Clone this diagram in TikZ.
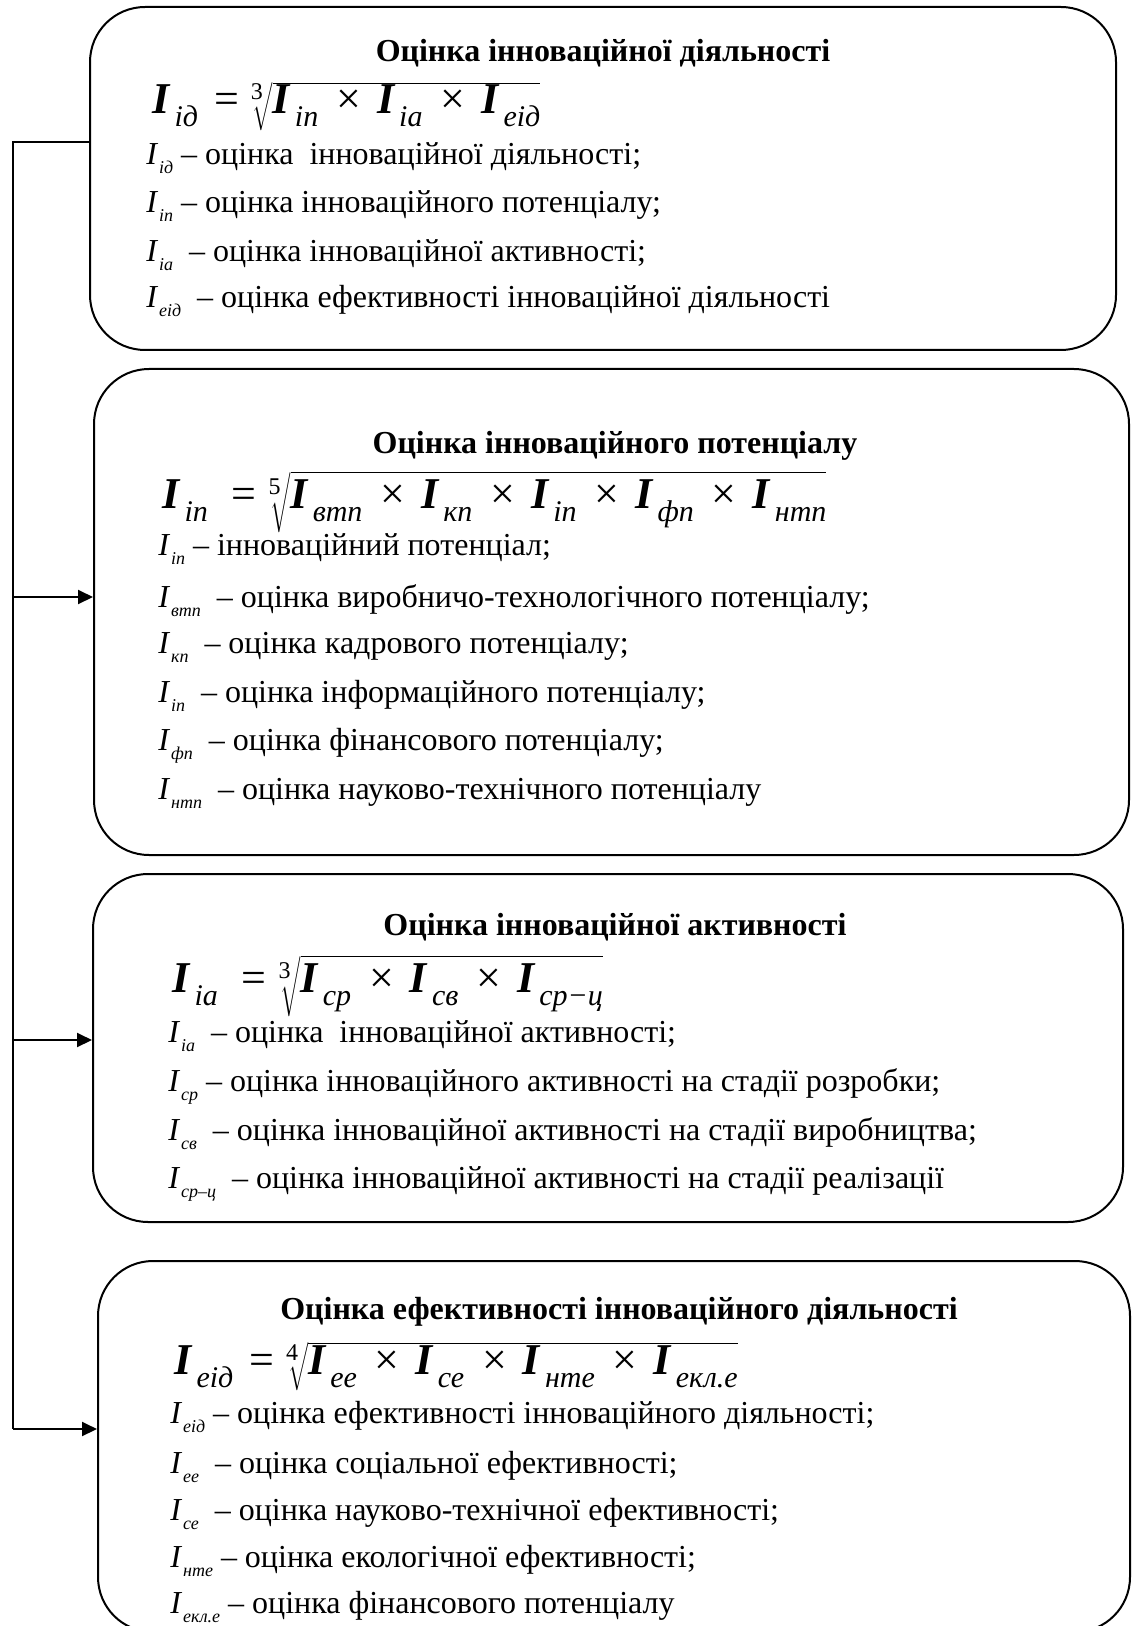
\documentclass[tikz,border=0pt]{standalone}
\usepackage{fontspec}
\setmainfont{Liberation Serif}
\usetikzlibrary{arrows.meta}
% symbol I with a lowered italic index: large (formula) and text size
\newcommand\fI[1]{{\bfseries\itshape I}\kern2.5pt\raisebox{-6.5pt}{\fontsize{15}{15}\selectfont\itshape #1}}
\newcommand\dI[1]{\textit{I}\kern0.4pt\raisebox{-4.5pt}{\fontsize{9}{9}\selectfont\itshape #1}}
\newcommand\tms{\hspace{9pt}×\hspace{8pt}}
\newcommand\eqs{\hspace{8pt}=\hspace{6pt}}
% n-th root of a product: the degree sits over the hook of the radical
\newcommand\rootof[2]{\raisebox{7pt}{\fontsize{12}{12}\selectfont #1}\kern-5pt$\sqrt{\mbox{\rule[-8pt]{0pt}{18pt}#2}}$}
\begin{document}
\begin{tikzpicture}[x=0.5pt,y=-0.5pt,
  card/.style={draw, line width=1pt, rounded corners=27.5pt, inner sep=0pt},
  head/.style={anchor=base, inner sep=0pt, font=\fontsize{16}{19}\selectfont\bfseries},
  formula/.style={anchor=base west, inner sep=0pt, font=\fontsize{22}{26}\selectfont},
  item/.style={anchor=base west, inner sep=0pt, font=\fontsize{16}{19}\selectfont},
  link/.style={line width=1pt},
  feed/.style={link, -{Triangle[length=7.5pt,width=7pt]}}]
\useasboundingbox (0,0) rectangle (1131,1626);

% frames
\node[card, minimum width=513pt, minimum height=171.5pt] (b1) at (603,178.5) {};
\node[card, minimum width=517.5pt, minimum height=243pt] (b2) at (611.5,612) {};
\node[card, minimum width=515pt, minimum height=174pt] (b3) at (608,1048) {};
\node[card, minimum width=516pt, minimum height=185.5pt] (b4) at (614,1446.5) {};

% block 1
\node[head] (h1) at (603,62) {Оцінка інноваційної діяльності};
\node[formula] (f1) at (152,114) {\fI{ід}\eqs\rootof{3}{\fI{іп}\tms\fI{іа}\tms\fI{еід}}};
\node[item] (a1) at (146,165) {\dI{ід} – оцінка\ \ інноваційної діяльності;};
\node[item] (a2) at (146,213) {\dI{іп} – оцінка інноваційного потенціалу;};
\node[item] (a3) at (146,262) {\dI{іа} \ – оцінка інноваційної активності;};
\node[item] (a4) at (146,308) {\dI{еід} \ – оцінка ефективності інноваційної діяльності};

% block 2
\node[head] (h2) at (615,453) {Оцінка інноваційного потенціалу};
\node[formula] (f2) at (162,508) {\fI{іп}\hspace{4pt}\eqs\rootof{5}{\fI{втп}\tms\fI{кп}\tms\fI{іп}\tms\fI{фп}\tms\fI{нтп}}};
\node[item] (c1) at (158,555) {\dI{іп} – інноваційний потенціал;};
\node[item] (c2) at (158,607) {\dI{втп} \ – оцінка виробничо-технологічного потенціалу;};
\node[item] (c3) at (158,653) {\dI{кп} \ – оцінка кадрового потенціалу;};
\node[item] (c4) at (158,702) {\dI{іп} \ – оцінка інформаційного потенціалу;};
\node[item] (c5) at (158,750) {\dI{фп} \ – оцінка фінансового потенціалу;};
\node[item] (c6) at (158,799) {\dI{нтп} \ – оцінка науково-технічного потенціалу};

% block 3
\node[head] (h3) at (615,935) {Оцінка інноваційної активності};
\node[formula] (f3) at (172,992) {\fI{іа}\hspace{4pt}\eqs\rootof{3}{\fI{ср}\tms\fI{св}\tms\fI{ср−ц}}};
\node[item] (d1) at (168,1042) {\dI{іа} \ – оцінка\ \ інноваційної активності;};
\node[item] (d2) at (168,1091) {\dI{ср} – оцінка інноваційного активності на стадії розробки;};
\node[item] (d3) at (168,1140) {\dI{св} \ – оцінка інноваційної активності на стадії виробництва;};
\node[item] (d4) at (168,1188) {\dI{ср–ц} \ – оцінка інноваційної активності на стадії реалізації};

% block 4
\node[head] (h4) at (619,1319) {Оцінка ефективності інноваційного діяльності};
\node[formula] (f4) at (174,1374) {\fI{еід}\eqs\rootof{4}{\fI{ее}\tms\fI{се}\tms\fI{нте}\tms\fI{екл.е}}};
\node[item] (e1) at (170,1423) {\dI{еід} – оцінка ефективності інноваційного діяльності;};
\node[item] (e2) at (170,1473) {\dI{ее} \ – оцінка соціальної ефективності;};
\node[item] (e3) at (170,1520) {\dI{се} \ – оцінка науково-технічної ефективності;};
\node[item] (e4) at (170,1567) {\dI{нте} – оцінка екологічної ефективності;};
\node[item] (e5) at (170,1613) {\dI{екл.е} – оцінка фінансового потенціалу};

% trunk and feeds
\coordinate (j0) at (13,142);
\coordinate (j1) at (13,597);
\coordinate (j2) at (13,1040);
\coordinate (j3) at (13,1429);
\draw[link] (b1.west |- j0) -- (j0) -- (j3);
\draw[feed] (j1) -- (j1 -| b2.west);
\draw[feed] (j2) -- (j2 -| b3.west);
\draw[feed] (j3) -- (j3 -| b4.west);
\end{tikzpicture}
\end{document}
